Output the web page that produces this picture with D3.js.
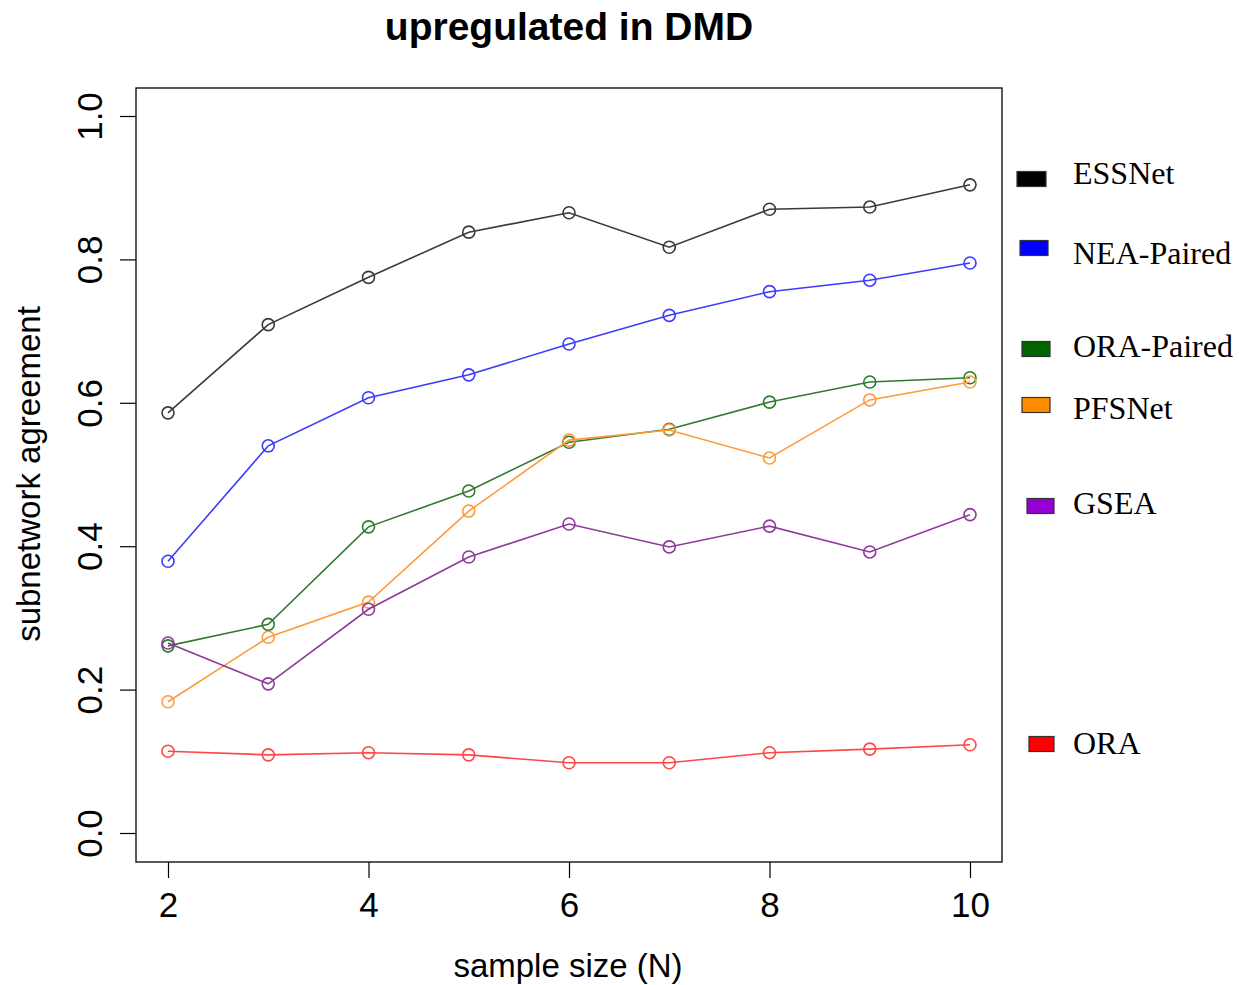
<!DOCTYPE html>
<html>
<head>
<meta charset="utf-8">
<script src="https://cdn.jsdelivr.net/npm/d3@7"></script>
<style>
  body { margin: 0; background: #fff; }
  .tick text { font-family: "Liberation Sans", Arial, sans-serif; }
</style>
</head>
<body>
<svg width="1239" height="985"></svg>
<script>
// sample sizes
let sampleSize = [2, 3, 4, 5, 6, 7, 8, 9, 10];
let methods = ["ESSNet", "NEA-Paired", "ORA-Paired", "PFSNet", "GSEA", "ORA"];

// values
let essnet    = [0.586, 0.709, 0.775, 0.838, 0.865, 0.817, 0.870, 0.873, 0.904];
let neaPaired = [0.379, 0.540, 0.607, 0.639, 0.682, 0.722, 0.755, 0.771, 0.795];
let oraPaired = [0.261, 0.291, 0.427, 0.477, 0.545, 0.563, 0.601, 0.629, 0.635];
let pfsnet    = [0.183, 0.273, 0.322, 0.449, 0.548, 0.562, 0.523, 0.604, 0.629];
let gsea      = [0.265, 0.208, 0.312, 0.385, 0.431, 0.399, 0.428, 0.392, 0.444];
let ora       = [0.114, 0.109, 0.112, 0.109, 0.098, 0.098, 0.112, 0.117, 0.123];

let xTicks = [2, 4, 6, 8, 10];
let yTicks = [0.0, 0.2, 0.4, 0.6, 0.8, 1.0];

let lineColors = ["#3a3a3a", "#3b3bff", "#2f7a2f", "#ff9a3a", "#8e3a9a", "#ff4646"];
let swatchColors = ["#000000", "#0000ff", "#006400", "#ff8c00", "#9400d3", "#ff0000"];
// legend is hand placed (uneven spacing like the original)
let swatchY = [179, 248, 349, 405, 506, 744];
let swatchX = [1017, 1020, 1022, 1022, 1027, 1029];
let swatchW = [29, 28, 28, 28, 27, 25];
let labelY = [173, 253, 346, 408, 503, 743];

let series = [essnet, neaPaired, oraPaired, pfsnet, gsea, ora];

var svg = d3.select("svg");
var box = { left: 136, right: 1002, top: 88, bottom: 862 };

let xScale = d3.scaleLinear().domain([2, 10]).range([168, 970]);
let yScale = d3.scaleLinear().domain([0, 1]).range([833, 116]);

// plot frame
svg.append("rect")
    .attr("x", box.left)
    .attr("y", box.top)
    .attr("width", box.right - box.left)
    .attr("height", box.bottom - box.top)
    .attr("fill", "none")
    .attr("stroke", "#000")
    .attr("stroke-width", 1.3);

// x axis
let xAxis = svg.append("g")
    .attr("transform", "translate(0," + box.bottom + ")")
    .call(d3.axisBottom(xScale).tickValues(xTicks).tickSize(16).tickPadding(14).tickFormat(d3.format("d")));
xAxis.select(".domain").remove();
xAxis.selectAll("line").attr("stroke", "#000").attr("stroke-width", 1.2);
xAxis.selectAll("text")
    .style("font-size", "35px")
    .attr("fill", "#000");

// y axis
let yAxis = svg.append("g")
    .attr("transform", "translate(" + box.left + ",0)")
    .call(d3.axisLeft(yScale).tickValues(yTicks).tickSize(16).tickFormat(d3.format(".1f")));
yAxis.select(".domain").remove();
yAxis.selectAll("line").attr("stroke", "#000").attr("stroke-width", 1.2);
yAxis.selectAll("text")
    .attr("x", null)
    .attr("dy", null)
    .attr("transform", "translate(-34,0) rotate(-90)")
    .attr("text-anchor", "middle")
    .attr("dominant-baseline", "auto")
    .style("font-size", "35px")
    .attr("fill", "#000");

// lines and points
let line = d3.line()
    .x((d, i) => xScale(sampleSize[i]))
    .y(d => yScale(d));

series.forEach(function (vals, k) {
    let g = svg.append("g").attr("class", "series");
    g.append("path")
        .datum(vals)
        .attr("d", line)
        .attr("fill", "none")
        .attr("stroke", lineColors[k])
        .attr("stroke-width", 1.6);
    g.selectAll("circle")
        .data(vals)
        .enter().append("circle")
        .attr("cx", (d, i) => xScale(sampleSize[i]))
        .attr("cy", d => yScale(d))
        .attr("r", 6)
        .attr("fill", "none")
        .attr("stroke", lineColors[k])
        .attr("stroke-width", 1.6);
});

// titles
svg.append("text")
    .attr("x", 569)
    .attr("y", 40)
    .attr("text-anchor", "middle")
    .style("font-family", "'Liberation Sans', Arial, sans-serif")
    .style("font-weight", "bold")
    .style("font-size", "39px")
    .text("upregulated in DMD");

svg.append("text")
    .attr("x", 568)
    .attr("y", 977)
    .attr("text-anchor", "middle")
    .style("font-family", "'Liberation Sans', Arial, sans-serif")
    .style("font-size", "33px")
    .text("sample size (N)");

svg.append("text")
    .attr("transform", "translate(40,474) rotate(-90)")
    .attr("text-anchor", "middle")
    .style("font-family", "'Liberation Sans', Arial, sans-serif")
    .style("font-size", "33px")
    .text("subnetwork agreement");

// legend
let legend = svg.selectAll(".legend")
    .data(methods)
    .enter().append("g")
    .attr("class", "legend");
legend.append("rect")
    .attr("x", (d, i) => swatchX[i])
    .attr("y", (d, i) => swatchY[i] - 7.5)
    .attr("width", (d, i) => swatchW[i])
    .attr("height", 15)
    .attr("fill", (d, i) => swatchColors[i])
    .attr("stroke", "#333")
    .attr("stroke-width", 1.2);
legend.append("text")
    .attr("x", 1073)
    .attr("y", (d, i) => labelY[i] + 10.5)
    .style("font-family", "'Liberation Serif', 'Times New Roman', serif")
    .style("font-size", "32px")
    .text(d => d);
</script>
</body>
</html>
